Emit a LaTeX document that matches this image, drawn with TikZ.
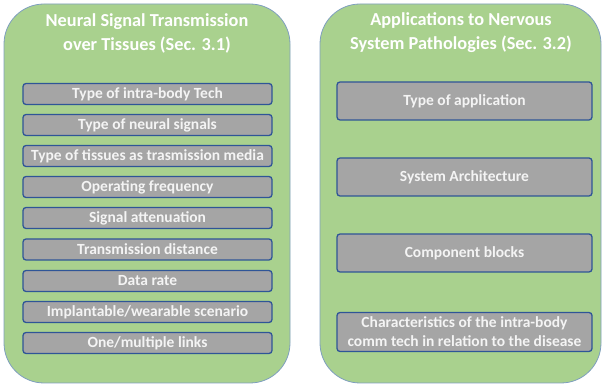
\documentclass[tikz,border=0pt]{standalone}
\usepackage{fontspec}
\setmainfont{Carlito}
\definecolor{panelgreen}{HTML}{A9D18E}
\definecolor{panelborder}{HTML}{7F9FBF}
\definecolor{boxgray}{HTML}{A5A5A5}
\definecolor{boxborder}{HTML}{2F5597}
\definecolor{boxtext}{HTML}{F4F4F4}
\tikzset{
  panel/.style={draw=panelborder, line width=0.8pt, fill=panelgreen, rounded corners=40pt},
  title/.style={text=white, font=\fontsize{18.3}{24}\selectfont\bfseries, align=center},
  itembox/.style={draw=boxborder, line width=1.3pt, fill=boxgray, rounded corners=3pt, text=boxtext,
    font=\fontsize{15.5}{19}\selectfont\bfseries, align=center, inner sep=0pt},
  leftbox/.style={itembox, minimum width=249pt, minimum height=21pt},
  rightbox/.style={itembox, minimum width=255pt, minimum height=38pt},
}
\begin{document}
\begin{tikzpicture}[x=1pt,y=-1pt]
\useasboundingbox (0,0) rectangle (603,387);
% panels
\path[panel] (4,4) rectangle (290,383);
\path[panel] (320,4) rectangle (601,383);
\node[title] (t1) at (147,33) {Neural Signal Transmission\\over Tissues (Sec. 3.1)};
\node[title] (t2) at (461,33) {Applications to Nervous\\System Pathologies (Sec. 3.2)};
% left items
\node[leftbox] (l0) at (147.5,94) {Type of intra-body Tech};
\node[leftbox] (l1) at (147.5,125) {Type of neural signals};
\node[leftbox] (l2) at (147.5,156) {Type of tissues as trasmission media};
\node[leftbox] (l3) at (147.5,187) {Operating frequency};
\node[leftbox] (l4) at (147.5,218) {Signal attenuation};
\node[leftbox] (l5) at (147.5,249.5) {Transmission distance};
\node[leftbox] (l6) at (147.5,281) {Data rate};
\node[leftbox] (l7) at (147.5,312) {Implantable/wearable scenario};
\node[leftbox] (l8) at (147.5,343) {One/multiple links};
% right items
\node[rightbox] (r0) at (464.5,101) {Type of application};
\node[rightbox] (r1) at (464.5,177) {System Architecture};
\node[rightbox] (r2) at (464.5,253) {Component blocks};
\node[rightbox, minimum height=39pt] (r3) at (464.5,332) {Characteristics of the intra-body\\comm tech in relation to the disease};
\end{tikzpicture}
\end{document}
